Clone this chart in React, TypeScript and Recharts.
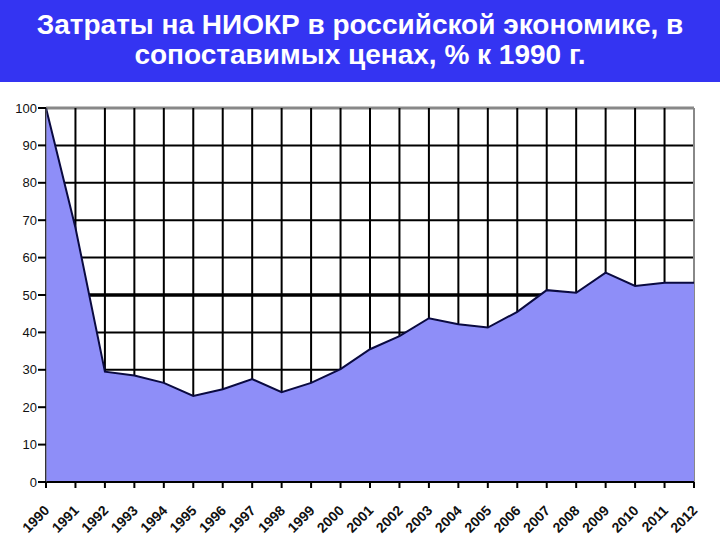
import React from "react";
import { AreaChart, Area, XAxis, YAxis, CartesianGrid } from "recharts";

const years = [
  "1990", "1991", "1992", "1993", "1994", "1995", "1996", "1997", "1998", "1999",
  "2000", "2001", "2002", "2003", "2004", "2005", "2006", "2007", "2008", "2009",
  "2010", "2011", "2012",
];
const values = [
  100, 68, 29.5, 28.5, 26.5, 23, 24.8, 27.5, 24, 26.5,
  30.2, 35.5, 39, 43.8, 42.2, 41.3, 45.5, 51.3, 50.6, 56,
  52.4, 53.3, 53.3,
];
const yTicks = [0, 10, 20, 30, 40, 50, 60, 70, 80, 90, 100];
const titleLines = [
  "Затраты на НИОКР в российской экономике, в",
  "сопоставимых ценах, % к 1990 г.",
];

const data = years.map((y, i) => ({ year: y, value: values[i] }));

const XTick = (props: any) => {
  const { x, y, payload } = props;
  const px = x - 3;
  const py = y + 14;
  return (
    <text
      x={px}
      y={py}
      transform={`rotate(-45 ${px} ${py})`}
      textAnchor="end"
      dominantBaseline="hanging"
      fontFamily="Arial, 'Liberation Sans', sans-serif"
      fontSize={14}
      fontWeight="bold"
      fill="#111"
    >
      {payload.value}
    </text>
  );
};

const HLine = (props: any) => {
  const { x1, x2, y1, y2, index, horizontalPoints } = props;
  const n = horizontalPoints ? horizontalPoints.length : 11;
  const sorted = horizontalPoints ? [...horizontalPoints].sort((a: number, b: number) => a - b) : [];
  const rank = sorted.length ? sorted.indexOf(y1) : index;
  const isTop = rank === 0;
  const isMid = rank === Math.round((n - 1) / 2);
  return (
    <line
      key={`h-${index}`}
      x1={x1}
      x2={x2}
      y1={y1}
      y2={y2}
      stroke={isTop ? "#888" : "#000"}
      strokeWidth={isTop ? 3 : isMid ? 3.5 : 2}
    />
  );
};

const VLine = (props: any) => {
  const { x1, x2, y1, y2, index, verticalPoints } = props;
  const maxX = verticalPoints ? Math.max(...verticalPoints) : -1;
  const isRight = x1 === maxX;
  return (
    <line
      key={`v-${index}`}
      x1={x1}
      x2={x2}
      y1={y1}
      y2={y2}
      stroke={isRight ? "#888" : "#000"}
      strokeWidth={2}
    />
  );
};

export default function App() {
  return (
    <div
      style={{
        position: "absolute",
        left: 0,
        top: 0,
        width: 720,
        height: 540,
        background: "#fff",
        overflow: "hidden",
      }}
    >
      <div
        style={{
          position: "absolute",
          left: 0,
          top: 0,
          width: 720,
          height: 82,
          background: "#3434F2",
          color: "#fff",
          fontFamily: "Arial, 'Liberation Sans', sans-serif",
          fontWeight: "bold",
          fontSize: 28,
          lineHeight: "30px",
          textAlign: "center",
          paddingTop: 10,
          boxSizing: "border-box",
          whiteSpace: "nowrap",
        }}
      >
        {titleLines.map((t) => (
          <div key={t}>{t}</div>
        ))}
      </div>
      <div style={{ position: "absolute", left: 0, top: 0 }}>
        <AreaChart
          width={720}
          height={540}
          data={data}
          margin={{ top: 108, right: 26, bottom: 8, left: 0 }}
        >
          <CartesianGrid horizontal={<HLine />} vertical={<VLine />} />
          <XAxis
            dataKey="year"
            interval={0}
            height={50}
            tick={<XTick />}
            tickSize={6}
            axisLine={{ stroke: "#000", strokeWidth: 2 }}
            tickLine={{ stroke: "#000", strokeWidth: 2 }}
          />
          <YAxis
            domain={[0, 100]}
            ticks={yTicks}
            width={46}
            tickSize={8}
            tickMargin={1}
            interval={0}
            axisLine={{ stroke: "#666", strokeWidth: 1 }}
            tickLine={{ stroke: "#000", strokeWidth: 2 }}
            tick={{
              fontFamily: "Arial, 'Liberation Sans', sans-serif",
              fontSize: 13,
              fill: "#111",
            }}
          />
          <Area
            type="linear"
            dataKey="value"
            stroke="#0a0a40"
            strokeWidth={2}
            fill="#8e8ef8"
            fillOpacity={1}
            isAnimationActive={false}
          />
        </AreaChart>
      </div>
    </div>
  );
}
